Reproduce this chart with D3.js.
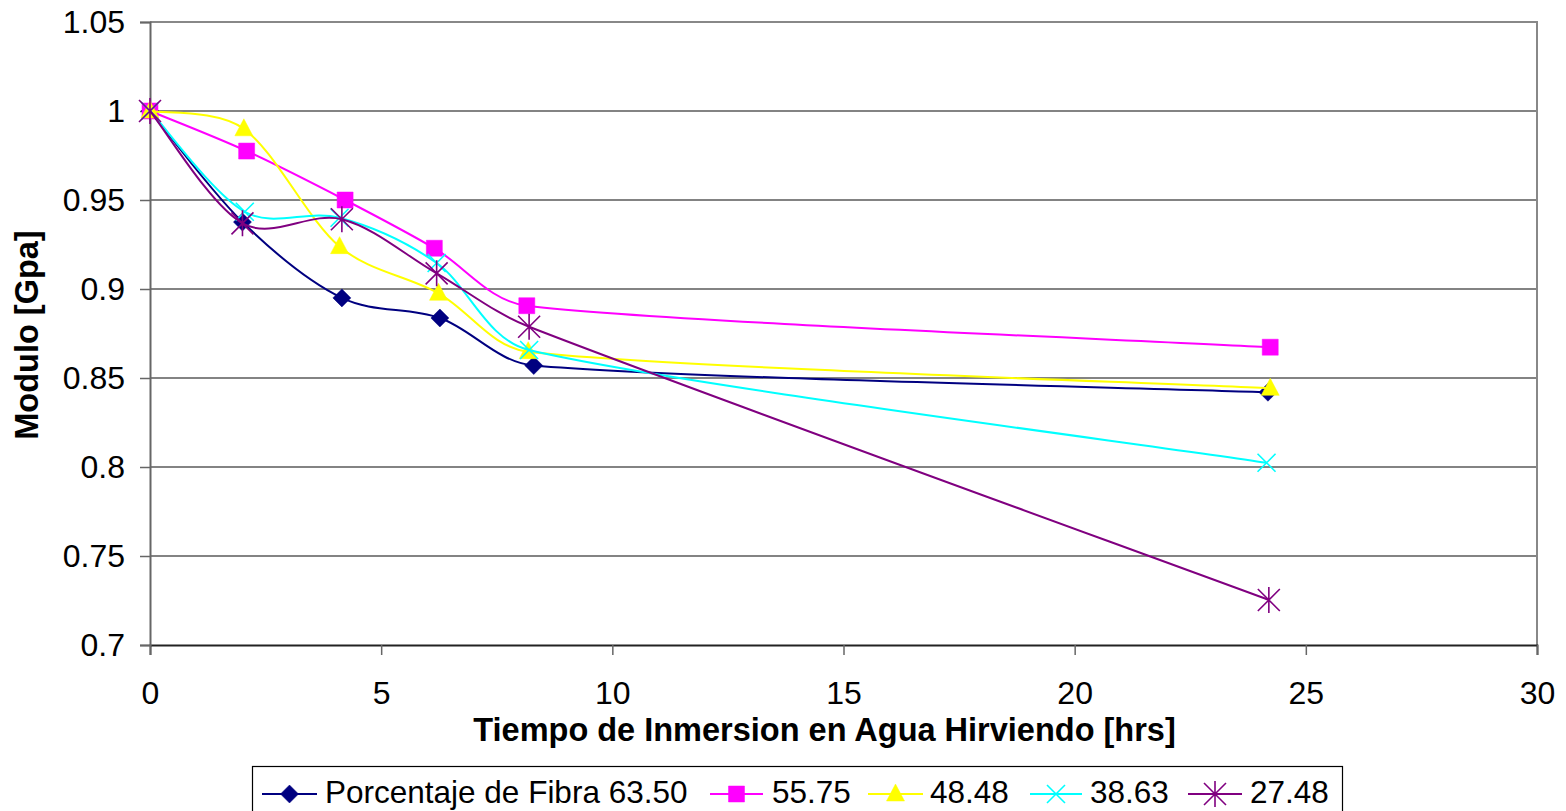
<!DOCTYPE html>
<html>
<head>
<meta charset="utf-8">
<script src="https://cdn.jsdelivr.net/npm/d3@7"></script>
<style>
  html, body { margin: 0; padding: 0; background: #fff; }
  svg { display: block; font-family: "Liberation Sans", Arial, sans-serif; }
</style>
</head>
<body>
<svg id="chart" width="1566" height="811"></svg>
<script>
// Series: fibre percentage, immersion time (hrs) and modulus (GPa)
const seriesNames = ["Porcentaje de Fibra 63.50", "55.75", "48.48", "38.63", "27.48"];
const hours6350 = [0, 2.0, 4.15, 6.27, 8.3, 24.18];
const modulo6350 = [1.0, 0.9376, 0.895, 0.8837, 0.857, 0.842];
const hours5575 = [0, 2.09, 4.22, 6.15, 8.15, 24.23];
const modulo5575 = [1.0, 0.9775, 0.950, 0.9229, 0.8906, 0.8673];
const hours4848 = [0, 2.03, 4.1, 6.24, 8.18, 24.23];
const modulo4848 = [1.0, 0.990, 0.9238, 0.8976, 0.8648, 0.8442];
const hours3863 = [0, 2.05, 4.1, 6.2, 8.2, 24.15];
const modulo3863 = [1.0, 0.9434, 0.940, 0.9146, 0.8657, 0.8024];
const hours2748 = [0, 2.0, 4.15, 6.2, 8.2, 24.2];
const modulo2748 = [1.0, 0.9369, 0.9392, 0.9088, 0.8788, 0.7253];

const xTicks = [0, 5, 10, 15, 20, 25, 30];
const yTicks = [0.7, 0.75, 0.8, 0.85, 0.9, 0.95, 1.0, 1.05];
const xTitle = "Tiempo de Inmersion en Agua Hirviendo [hrs]";
const yTitle = "Modulo [Gpa]";

const colors = ["#000080", "#ff00ff", "#ffff00", "#00ffff", "#800080"];
const markers = ["diamond", "square", "triangle", "x", "star"];

const series = [
  { hours: hours6350, values: modulo6350 },
  { hours: hours5575, values: modulo5575 },
  { hours: hours4848, values: modulo4848 },
  { hours: hours3863, values: modulo3863 },
  { hours: hours2748, values: modulo2748 }
].map((s, i) => ({
  name: seriesNames[i],
  color: colors[i],
  marker: markers[i],
  points: s.hours.map((h, j) => ({ x: h, y: s.values[j] }))
}));

const svg = d3.select("#chart");
const plotLeft = 150, plotRight = 1537, plotTop = 22, plotBottom = 645;

const x = d3.scaleLinear().domain([0, 30]).range([plotLeft, plotRight]);
const y = d3.scaleLinear().domain([0.7, 1.05]).range([plotBottom, plotTop]);

// horizontal gridlines
svg.append("g")
  .selectAll("line")
  .data(yTicks.filter(t => t > 0.7 && t < 1.05))
  .join("line")
  .attr("x1", plotLeft).attr("x2", plotRight)
  .attr("y1", d => y(d)).attr("y2", d => y(d))
  .attr("stroke", "#5a5a5a").attr("stroke-width", 1.3);

// plot frame (top and right)
svg.append("path")
  .attr("d", `M${plotLeft},${y(1.05)}H${plotRight}V${plotBottom}`)
  .attr("fill", "none").attr("stroke", "#888").attr("stroke-width", 2);

// axes
const xAxis = d3.axisBottom(x).tickValues(xTicks).tickSize(10).tickPadding(26)
  .tickFormat(d3.format("d"));
const gx = svg.append("g").attr("transform", `translate(0,${plotBottom})`).call(xAxis);
gx.select(".domain").attr("stroke", "#222").attr("stroke-width", 1.8);
gx.selectAll(".tick line").attr("stroke", "#666").attr("stroke-width", 1.5);
gx.selectAll(".tick text").attr("font-size", 32).attr("fill", "#000")
  .attr("font-family", "Liberation Sans, Arial, sans-serif");

const yAxis = d3.axisLeft(y).tickValues(yTicks).tickSize(10).tickPadding(15)
  .tickFormat(d => String(+d.toFixed(2)));
const gy = svg.append("g").attr("transform", `translate(${plotLeft},0)`).call(yAxis);
gy.select(".domain").attr("stroke", "#666").attr("stroke-width", 2);
gy.selectAll(".tick line").attr("stroke", "#666").attr("stroke-width", 1.5);
gy.selectAll(".tick text").attr("font-size", 32).attr("fill", "#000")
  .attr("font-family", "Liberation Sans, Arial, sans-serif");

// axis titles
svg.append("text")
  .attr("x", 824.5).attr("y", 741)
  .attr("text-anchor", "middle").attr("font-size", 32.5).attr("font-weight", "bold")
  .text(xTitle);
svg.append("text")
  .attr("transform", `translate(38,335) rotate(-90)`)
  .attr("text-anchor", "middle").attr("font-size", 32.5).attr("font-weight", "bold")
  .text(yTitle);

// marker shapes
function markerPath(type) {
  switch (type) {
    case "diamond": return "M0,-9L9,0L0,9L-9,0Z";
    case "square": return "M-8,-8H8V8H-8Z";
    case "triangle": return "M0,-10L9,7H-9Z";
    case "x": return "M-9,-9L9,9M-9,9L9,-9";
    case "star": return "M-11,-11L11,11M-11,11L11,-11M0,-13V13";
  }
}
function drawMarker(g, type, color) {
  const filled = type === "diamond" || type === "square" || type === "triangle";
  g.append("path")
    .attr("d", markerPath(type))
    .attr("fill", filled ? color : "none")
    .attr("stroke", color)
    .attr("stroke-width", filled ? 0.5 : 1.6);
}

// smoothed line: cubic Bezier through the points, tangent from the neighbours,
// handle length limited by the length of the adjoining segment
function smoothLine(data) {
  const p = data.map(d => [x(d.x), y(d.y)]);
  const n = p.length;
  const dist = (a, b) => Math.hypot(b[0] - a[0], b[1] - a[1]);
  const handles = p.map((pt, i) => {
    const prev = p[Math.max(i - 1, 0)], next = p[Math.min(i + 1, n - 1)];
    const tx = next[0] - prev[0], ty = next[1] - prev[1];
    const tl = Math.hypot(tx, ty) || 1;
    const base = tl / 6;
    const inLen = i > 0 ? Math.min(base, dist(prev, pt) * 0.35) : 0;
    const outLen = i < n - 1 ? Math.min(base, dist(pt, next) * 0.35) : 0;
    return {
      inC: [pt[0] - tx / tl * inLen, pt[1] - ty / tl * inLen],
      outC: [pt[0] + tx / tl * outLen, pt[1] + ty / tl * outLen]
    };
  });
  const path = d3.path();
  path.moveTo(p[0][0], p[0][1]);
  for (let i = 0; i < n - 1; i++) {
    const a = handles[i].outC, b = handles[i + 1].inC;
    path.bezierCurveTo(a[0], a[1], b[0], b[1], p[i + 1][0], p[i + 1][1]);
  }
  return path.toString();
}

series.forEach(s => {
  const g = svg.append("g");
  g.append("path")
    .attr("d", smoothLine(s.points))
    .attr("fill", "none").attr("stroke", s.color).attr("stroke-width", 2);
  g.selectAll("g.mk")
    .data(s.points)
    .join("g").attr("class", "mk")
    .attr("transform", d => `translate(${x(d.x)},${y(d.y)})`)
    .each(function () { drawMarker(d3.select(this), s.marker, s.color); });
});

// legend
const legendLayout = [
  { x1: 262, x2: 317, tx: 325 },
  { x1: 710, x2: 763, tx: 772 },
  { x1: 868, x2: 923, tx: 930 },
  { x1: 1030, x2: 1082, tx: 1090 },
  { x1: 1188, x2: 1242, tx: 1250 }
];
const legend = svg.append("g");
legend.append("rect")
  .attr("x", 252.5).attr("y", 766.5).attr("width", 1090).attr("height", 60)
  .attr("fill", "#fff").attr("stroke", "#000").attr("stroke-width", 1.2);
const ly = 794;
series.forEach((s, i) => {
  const L = legendLayout[i];
  legend.append("line")
    .attr("x1", L.x1).attr("x2", L.x2).attr("y1", ly).attr("y2", ly)
    .attr("stroke", s.color).attr("stroke-width", 2);
  const mg = legend.append("g").attr("transform", `translate(${(L.x1 + L.x2) / 2},${ly})`);
  drawMarker(mg, s.marker, s.color);
  legend.append("text")
    .attr("x", L.tx).attr("y", 803)
    .attr("font-size", 31.5).attr("fill", "#000")
    .text(s.name);
});
</script>
</body>
</html>
